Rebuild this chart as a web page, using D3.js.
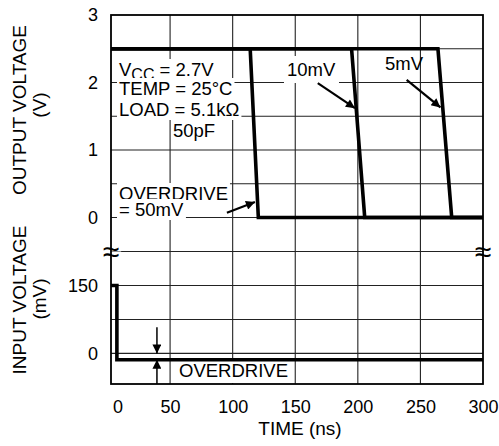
<!DOCTYPE html>
<html>
<head>
  <meta charset="utf-8">
  <style>
    body {
      margin: 0;
      background: #fff;
    }

    #chart text {
      font-family: "Liberation Sans", Arial, sans-serif;
      font-size: 18.5px;
      fill: #000;
    }
  </style>
</head>
<body>
  <div id="chart"></div>
  <script src="https://d3js.org/d3.v7.min.js"></script>
  <script>

    // DATA
    var timeTicks = [0, 50, 100, 150, 200, 250, 300];
    var outTicks = [0, 1, 2, 3];
    var inTicks = [0, 150];

    var outGrid = [0, 0.5, 1, 1.5, 2, 2.5];
    var inGrid = [0, 75, 150, 225];

    var overdrives = ['50mV', '10mV', '5mV'];
    var fallStart = [114, 195, 264];   // ns, output starts to fall
    var fallEnd = [120.5, 205.5, 275]; // ns, output reaches 0V
    var outHigh = 2.5;
    var outLow = 0;

    var inputTime = [0, 7.5, 7.5, 300];
    var inputMV = [150, 150, -14, -14];

    var width = 499;
    var height = 446;

    var plotLeft = 111;

    var x = d3.scaleLinear().domain([0, 300]).range([107.5, 483]);
    var yOut = d3.scaleLinear().domain([0, 3]).range([217.5, 15]);
    var yIn = d3.scaleLinear().domain([-67.5, 225]).range([384, 251.5]);

    var tStart = x.invert(plotLeft);

    var svg = d3.select('#chart')
      .append('svg')
        .attr('width', width)
        .attr('height', height);

    var plotTop = yOut(3);
    var plotBottom = yIn(-67.5);
    var plotRight = x(300);

    // GRID
    var grid = svg.append('g')
      .attr('stroke', '#222')
      .attr('stroke-width', 1.1);

    grid.selectAll('.vgrid')
      .data(timeTicks.slice(1, -1))
      .enter()
        .append('line')
          .attr('x1', d => x(d))
          .attr('x2', d => x(d))
          .attr('y1', plotTop)
          .attr('y2', plotBottom);

    grid.selectAll('.ogrid')
      .data(outGrid)
      .enter()
        .append('line')
          .attr('x1', plotLeft)
          .attr('x2', plotRight)
          .attr('y1', d => yOut(d))
          .attr('y2', d => yOut(d));

    grid.selectAll('.igrid')
      .data(inGrid)
      .enter()
        .append('line')
          .attr('x1', plotLeft)
          .attr('x2', plotRight)
          .attr('y1', d => yIn(d))
          .attr('y2', d => yIn(d));

    // labels with white background that hide the grid
    var labels = svg.append('g');

    function boxed(px, py, str, pad) {
      var g = labels.append('g');
      var rect = g.append('rect').attr('fill', '#fff');
      var t = g.append('text')
        .attr('x', px)
        .attr('y', py);

      if (typeof str === 'function') {
        str(t);
      } else {
        t.text(str);
      }

      var b = t.node().getBBox();
      pad = pad || [2, 0];
      rect
        .attr('x', b.x - pad[0])
        .attr('y', b.y - pad[1])
        .attr('width', b.width + 2 * pad[0])
        .attr('height', b.height + 2 * pad[1]);
      return g;
    }

    boxed(119, 76, function(t) {
      t.append('tspan').text('V');
      t.append('tspan').attr('dy', 4).style('font-size', '16px').text('CC');
      t.append('tspan').attr('dy', -4).text(' = 2.7V');
    });
    boxed(119, 95, 'TEMP = 25°C');
    boxed(119, 116, 'LOAD = 5.1kΩ');
    boxed(173, 137, '50pF');

    boxed(119, 200, 'OVERDRIVE');
    boxed(119, 216, '= 50mV');

    boxed(287, 76, '10mV', [3, 3]);
    labels.append('text').attr('x', 385).attr('y', 70).text('5mV');

    boxed(179, 377, 'OVERDRIVE', [6, 2]);

    // TRACES
    var line = d3.line();

    overdrives.forEach(function(name, i) {
      var pts = [
        [tStart, outHigh],
        [fallStart[i], outHigh],
        [fallEnd[i], outLow],
        [300, outLow]
      ];

      svg.append('path')
        .attr('class', 'trace')
        .attr('fill', 'none')
        .attr('stroke', '#000')
        .attr('stroke-width', 3.6)
        .attr('stroke-linejoin', 'miter')
        .attr('d', line(pts.map(p => [x(p[0]), yOut(p[1])])));
    });

    var inPts = inputTime.map((t, i) => [x(Math.max(t, tStart)), yIn(inputMV[i])]);

    svg.append('path')
      .attr('fill', 'none')
      .attr('stroke', '#000')
      .attr('stroke-width', 3.6)
      .attr('d', line(inPts));

    // FRAME
    svg.append('rect')
      .attr('x', plotLeft)
      .attr('y', plotTop)
      .attr('width', plotRight - plotLeft)
      .attr('height', plotBottom - plotTop)
      .attr('fill', 'none')
      .attr('stroke', '#000')
      .attr('stroke-width', 1.8);

    // ARROWS
    var defs = svg.append('defs');
    defs.append('marker')
      .attr('id', 'head')
      .attr('viewBox', '0 0 10 10')
      .attr('refX', 10)
      .attr('refY', 5)
      .attr('markerWidth', 12)
      .attr('markerHeight', 9)
      .attr('markerUnits', 'userSpaceOnUse')
      .attr('orient', 'auto')
      .append('path')
        .attr('d', 'M0,0L10,5L0,10Z')
        .attr('fill', '#000');

    var arrows = [
      [[95.4, 0.07], [117.8, 0.23], yOut, 2.2],
      [[168, 1.99], [197.7, 1.62], yOut, 2.2],
      [[239, 2.04], [266, 1.63], yOut, 2.2],
      [[39.5, 58], [39.5, 0], yIn, 1.5],
      [[39.5, -67.5], [39.5, -14], yIn, 1.5]
    ];

    svg.selectAll('.arrow')
      .data(arrows)
      .enter()
        .append('line')
          .attr('class', 'arrow')
          .attr('x1', d => x(d[0][0]))
          .attr('y1', d => d[2](d[0][1]))
          .attr('x2', d => x(d[1][0]))
          .attr('y2', d => d[2](d[1][1]))
          .attr('stroke', '#000')
          .attr('stroke-width', d => d[3])
          .attr('marker-end', 'url(#head)');

    // AXES
    var xAxis = d3.axisBottom(x)
      .tickValues(timeTicks)
      .tickFormat(d3.format('d'))
      .tickSize(0)
      .tickPadding(0);

    var gx = svg.append('g')
      .attr('transform', `translate(0, ${plotBottom + 29})`)
      .call(xAxis);
    gx.select('.domain').remove();
    gx.selectAll('text')
      .attr('dy', 0)
      .attr('dx', d => d === 0 ? 10 : 0);

    var gyOut = svg.append('g')
      .attr('transform', `translate(${plotLeft - 13}, 0)`)
      .call(d3.axisLeft(yOut).tickValues(outTicks).tickFormat(d3.format('d')).tickSize(0).tickPadding(0));
    gyOut.select('.domain').remove();

    var gyIn = svg.append('g')
      .attr('transform', `translate(${plotLeft - 13}, 0)`)
      .call(d3.axisLeft(yIn).tickValues(inTicks).tickFormat(d3.format('d')).tickSize(0).tickPadding(0));
    gyIn.select('.domain').remove();

    svg.selectAll('.tick text')
      .attr('font-size', null)
      .attr('font-family', null)
      .style('font-size', '18px');

    // axis titles
    function vtitle(cx, cy, str) {
      svg.append('text')
        .attr('transform', `translate(${cx}, ${cy}) rotate(-90)`)
        .attr('text-anchor', 'middle')
        .style('font-size', '19px')
        .text(str);
    }

    vtitle(26, 110, 'OUTPUT VOLTAGE');
    vtitle(46, 105, '(V)');
    vtitle(26, 300, 'INPUT VOLTAGE');
    vtitle(46, 299, '(mV)');

    svg.append('text')
      .attr('x', 300)
      .attr('y', 435)
      .attr('text-anchor', 'middle')
      .style('font-size', '19px')
      .text('TIME (ns)');

    // axis break marks
    [plotLeft, plotRight].forEach(function(bx) {
      boxed(bx, yIn(225) + 10, '≈', [0, -7])
        .select('text')
          .attr('text-anchor', 'middle')
          .style('font-size', '30px');
    });

  </script>
</body>
</html>
